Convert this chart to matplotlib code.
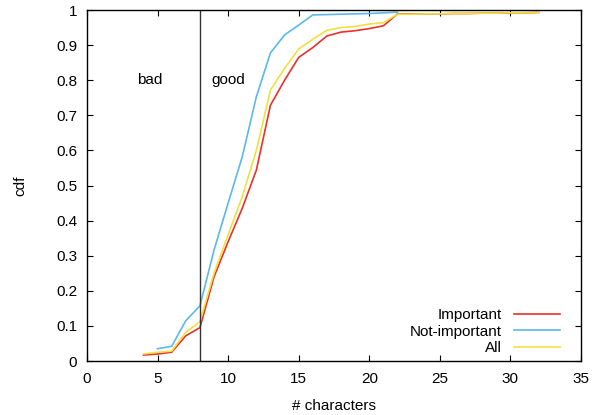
import matplotlib
matplotlib.use('Agg')
import matplotlib.pyplot as plt

plt.rcParams['font.family'] = ['Liberation Sans', 'DejaVu Sans']

# characters vs cdf
x_imp = [4, 5, 6, 7, 8, 9, 10, 11, 12, 13, 14, 15, 16, 17, 18, 19, 20, 21, 22, 23, 24, 25, 26, 27, 28, 29, 30, 31, 32]
important = [0.017, 0.02, 0.025, 0.072, 0.095, 0.24, 0.34, 0.435, 0.544, 0.729, 0.80, 0.865, 0.893, 0.926, 0.937,
             0.941, 0.947, 0.955, 0.989, 0.989, 0.989, 0.989, 0.99, 0.99, 0.991, 0.991, 0.992, 0.992, 0.993]

x_not = [5, 6, 7, 8, 9, 10, 11, 12, 13, 14, 15, 16, 17, 18, 19, 20, 21, 22]
not_important = [0.035, 0.042, 0.115, 0.157, 0.316, 0.45, 0.582, 0.753, 0.878, 0.929, 0.957, 0.986, 0.987, 0.988,
                 0.989, 0.99, 0.992, 0.994]

x_all = [4, 5, 6, 7, 8, 9, 10, 11, 12, 13, 14, 15, 16, 17, 18, 19, 20, 21, 22, 23, 24, 25, 26, 27, 28, 29, 30, 31, 32]
all_vals = [0.02, 0.025, 0.028, 0.082, 0.112, 0.25, 0.36, 0.468, 0.60, 0.772, 0.834, 0.889, 0.917, 0.942, 0.95,
            0.953, 0.96, 0.964, 0.988, 0.988, 0.989, 0.989, 0.99, 0.99, 0.991, 0.991, 0.992, 0.992, 0.993]

threshold = 8

fig = plt.figure(figsize=(5.94, 4.15), dpi=100)
ax = fig.add_axes([0.1465, 0.1301, 0.8315, 0.8458])

ax.plot(x_imp, important, color='#e8312a', lw=1.2, label='Important')
ax.plot(x_not, not_important, color='#5bb8ea', lw=1.2, label='Not-important')
ax.plot(x_all, all_vals, color='#f0e040', lw=1.2, label='All')
ax.axvline(threshold, color='#333333', lw=1)

ax.text(4.45, 0.8, 'bad', ha='center', va='center', fontsize=11)
ax.text(10.0, 0.8, 'good', ha='center', va='center', fontsize=11)

ax.set_xlim(0, 35)
ax.set_ylim(0, 1)
ax.set_xticks(range(0, 36, 5))
ax.set_yticks([i / 10 for i in range(11)])
ax.set_yticklabels(['0'] + ['%g' % (i / 10) for i in range(1, 10)] + ['1'])
ax.tick_params(direction='in', top=True, right=True, length=4, labelsize=11)
ax.tick_params(axis='x', pad=8)
ax.tick_params(axis='y', pad=7)
for s in ax.spines.values():
    s.set_linewidth(1)

ax.set_xlabel('# characters', fontsize=11, labelpad=9)
ax.set_ylabel('cdf', fontsize=11, labelpad=21)

ax.legend(loc='lower right', frameon=False, markerfirst=False, fontsize=11,
          handlelength=3, labelspacing=0.15, borderaxespad=0.0, bbox_to_anchor=(0.97, 0.0))

fig.savefig('out.png', dpi=100)
